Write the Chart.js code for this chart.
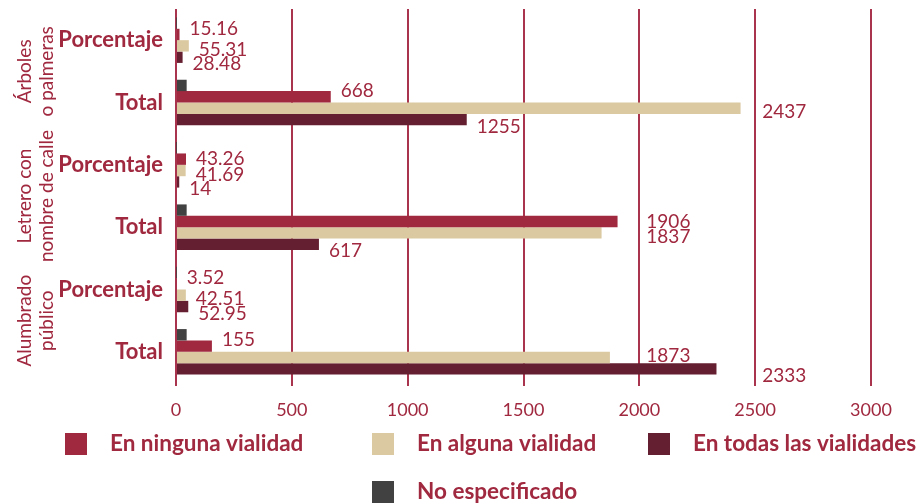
<!DOCTYPE html>
<html lang="es">
<head>
<meta charset="utf-8">
<title>Vialidades</title>
<script src="https://cdn.jsdelivr.net/npm/chart.js@4.4.0/dist/chart.umd.min.js"></script>
<style>
  html, body { margin: 0; padding: 0; background: #ffffff; }
  #wrap { width: 922px; height: 503px; position: relative; }
</style>
</head>
<body>
<div id="wrap"><canvas id="chart"></canvas></div>
<script>
// Data
const rowLabels = ['Porcentaje', 'Total', 'Porcentaje', 'Total', 'Porcentaje', 'Total'];
const groupLabels = [['Árboles', 'o palmeras'], ['Letrero con', 'nombre de calle'], ['Alumbrado', 'público']];
const noEspecificado = [1.05, 46, 1.05, 46, 1.02, 46];
const enNinguna = [15.16, 668, 43.26, 1906, 3.52, 155];
const enAlguna = [55.31, 2437, 41.69, 1837, 42.51, 1873];
const enTodas = [28.48, 1255, 14, 617, 52.95, 2333];
const xTicks = [0, 500, 1000, 1500, 2000, 2500, 3000];

const textColor = '#a0283f';
const gridColor = '#a8344d';
const fontFamily = 'Lato, "Open Sans", sans-serif';

// Legend drawn as a 3-column grid like the original
const legendOrder = [1, 2, 3, 0];
const legendSlots = [[65, 444], [372, 444], [648, 444], [372, 492]];

const valueLabels = {
  id: 'valueLabels',
  afterDatasetsDraw(chart) {
    const ctx = chart.ctx;
    const xs = chart.scales.x;
    const gridX = xTicks.map(v => xs.getPixelForValue(v));
    ctx.save();
    ctx.font = '19px ' + fontFamily;
    ctx.fillStyle = textColor;
    ctx.textAlign = 'left';
    ctx.textBaseline = 'middle';
    chart.data.datasets.forEach((ds, i) => {
      if (!ds.showValue) return;
      const nextMeta = i + 1 < chart.data.datasets.length ? chart.getDatasetMeta(i + 1) : null;
      chart.getDatasetMeta(i).data.forEach((bar, j) => {
        const txt = String(ds.data[j]);
        const w = ctx.measureText(txt).width;
        let x = bar.x + 10;
        // keep the label clear of a grid line, as in the original
        gridX.forEach(g => {
          if (g > bar.x + 4 && g < x + w + 2) x = g + 7;
        });
        let shift = ds.labelShift;
        // lift the label when the bar below runs under it
        if (nextMeta && nextMeta.data[j].x > x - 4) shift -= 6;
        ctx.fillText(txt, x, bar.y + shift);
      });
    });
    ctx.restore();
  }
};

const groupTitles = {
  id: 'groupTitles',
  afterDraw(chart) {
    const ctx = chart.ctx;
    const y = chart.scales.y;
    ctx.save();
    ctx.font = '19px ' + fontFamily;
    ctx.fillStyle = textColor;
    ctx.textAlign = 'center';
    ctx.textBaseline = 'middle';
    groupLabels.forEach((lines, g) => {
      const mid = (y.getPixelForValue(g * 2) + y.getPixelForValue(g * 2 + 1)) / 2;
      lines.forEach((line, k) => {
        ctx.save();
        ctx.translate(25 + k * 22, mid);
        ctx.rotate(-Math.PI / 2);
        ctx.fillText(line, 0, 0);
        ctx.restore();
      });
    });
    ctx.restore();
  }
};

const gridLegend = {
  id: 'gridLegend',
  afterDraw(chart) {
    const ctx = chart.ctx;
    ctx.save();
    ctx.font = 'bold 22.5px ' + fontFamily;
    ctx.textAlign = 'left';
    ctx.textBaseline = 'middle';
    legendOrder.forEach((dsIndex, k) => {
      const ds = chart.data.datasets[dsIndex];
      const [x, y] = legendSlots[k];
      ctx.fillStyle = ds.backgroundColor;
      ctx.fillRect(x, y - 11, 22, 22);
      ctx.fillStyle = textColor;
      ctx.fillText(ds.label, x + 45, y);
    });
    ctx.restore();
  }
};

const ctx = document.getElementById('chart').getContext('2d');
new Chart(ctx, {
  type: 'bar',
  data: {
    labels: rowLabels,
    datasets: [
      { label: 'No especificado', data: noEspecificado, backgroundColor: '#414141', showValue: false },
      { label: 'En ninguna vialidad', data: enNinguna, backgroundColor: '#a0283f', showValue: true, labelShift: 0 },
      { label: 'En alguna vialidad', data: enAlguna, backgroundColor: '#dbc9a1', showValue: true, labelShift: 4 },
      { label: 'En todas las vialidades', data: enTodas, backgroundColor: '#641f30', showValue: true, labelShift: 7 }
    ]
  },
  options: {
    indexAxis: 'y',
    responsive: true,
    maintainAspectRatio: false,
    animation: false,
    categoryPercentage: 0.73,
    barPercentage: 1.0,
    layout: {
      padding: { left: 0, top: 9, right: 51, bottom: 80 }
    },
    scales: {
      x: {
        min: 0,
        max: 3000,
        afterBuildTicks: s => { s.ticks = xTicks.map(v => ({ value: v })); },
        afterFit: s => { s.height = 40; s.paddingLeft = 0; s.paddingRight = 0; },
        border: { display: false },
        grid: {
          color: gridColor,
          tickColor: gridColor,
          lineWidth: 2,
          drawTicks: true,
          tickLength: 3
        },
        ticks: {
          color: textColor,
          padding: 13,
          font: { family: fontFamily, size: 18 },
          callback: v => String(v)
        }
      },
      y: {
        afterFit: s => { s.width = 176; s.paddingTop = 0; s.paddingBottom = 0; },
        border: { display: false },
        grid: { display: false, drawTicks: false },
        ticks: {
          color: textColor,
          padding: 13,
          font: { family: fontFamily, size: 22, weight: 'bold' }
        }
      }
    },
    plugins: {
      legend: { display: false },
      tooltip: { enabled: false }
    }
  },
  plugins: [valueLabels, groupTitles, gridLegend]
});
</script>
</body>
</html>
